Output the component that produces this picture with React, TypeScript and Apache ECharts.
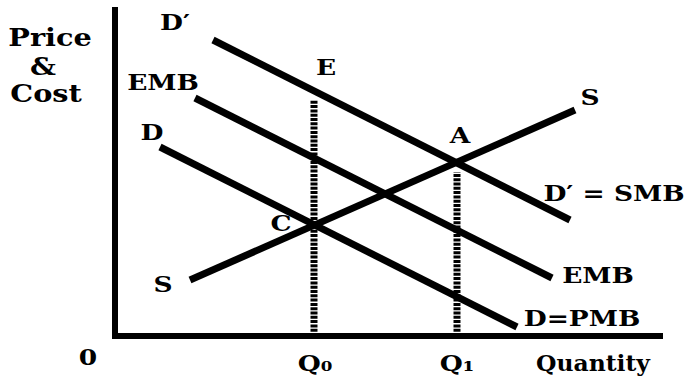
import React, { useEffect, useRef } from "react";
import * as echarts from "echarts";

// Axis extents (quantity, price) in chart units
const X_MAX = 545;
const Y_MAX = 326;

// Curves: [quantity, price] end points
const smbCurve = [[98, 296], [455, 116]]; // D' = SMB
const embCurve = [[80, 238], [437, 58]]; // EMB
const pmbCurve = [[45, 189], [402, 9]]; // D = PMB
const supplyCurve = [[75, 56], [460, 226]]; // S

// Quantities and dotted guide lines
const q0 = 199;
const q0Top = 236;
const q1 = 342;
const q1Top = 164;

// Text annotations: text, quantity, price, font size, horizontal stretch
const annotations: [string, number, number, number, number][] = [
  ["Price", -65, 299, 25, 1.15],
  ["&", -72, 270, 25, 1.15],
  ["Cost", -69, 243, 25, 1.15],
  ["D\u2032", 60, 314, 23, 1.15],
  ["E", 211, 269, 23, 1.15],
  ["EMB", 48, 254, 23, 1.15],
  ["D", 37, 204, 23, 1.15],
  ["A", 345, 201, 23, 1.15],
  ["C", 166, 113, 23, 1.15],
  ["S", 475, 239, 23, 1.15],
  ["D\u2032 = SMB", 499, 143, 23, 1.15],
  ["S", 48, 52, 23, 1.15],
  ["EMB", 483, 61, 23, 1.15],
  ["D=PMB", 467, 18, 23, 1.15],
  ["0", -27, -21, 23, 1.15],
  ["Q\u2080", 200, -27, 23, 1.15],
  ["Q\u2081", 342, -27, 23, 1.15],
  ["Quantity", 478, -27, 23, 1.02],
];

const FONT = '"DejaVu Serif", serif';

export default function App() {
  const ref = useRef<HTMLDivElement>(null);
  useEffect(() => {
    if (!ref.current) return;
    const chart = echarts.init(ref.current, null, { renderer: "svg" });
    const thick = { color: "#000", width: 7, cap: "butt" };
    const dotted = { color: "#000", width: 7, type: [3, 1.3], cap: "butt" };
    const lineSeries = (data: number[][], style: any, z: number) => ({
      type: "line",
      data,
      symbol: "none",
      silent: true,
      animation: false,
      lineStyle: style,
      z,
    });
    const axisCommon = {
      type: "value",
      axisLine: { show: true, onZero: false, lineStyle: { color: "#000", width: 6, cap: "square" } },
      axisTick: { show: false },
      axisLabel: { show: false },
      splitLine: { show: false },
    };
    chart.setOption({
      animation: false,
      backgroundColor: "#fff",
      grid: { left: 115, right: 27, top: 10, bottom: 46, containLabel: false, outerBoundsMode: "none" },
      xAxis: { ...axisCommon, min: 0, max: X_MAX },
      yAxis: { ...axisCommon, min: 0, max: Y_MAX },
      series: [
        lineSeries([[q0, 0], [q0, q0Top]], dotted, 2),
        lineSeries([[q1, 0], [q1, q1Top]], dotted, 2),
        lineSeries(smbCurve, thick, 3),
        lineSeries(embCurve, thick, 3),
        lineSeries(pmbCurve, thick, 3),
        lineSeries(supplyCurve, thick, 3),
      ],
    });
    const graphic = annotations.map(([text, x, y, size, sx]) => {
      const p = chart.convertToPixel({ gridIndex: 0 }, [x, y]) as number[];
      return {
        type: "text",
        x: p[0],
        y: p[1],
        scaleX: sx,
        silent: true,
        style: {
          text,
          font: `bold ${size}px ${FONT}`,
          fill: "#000",
          textAlign: "center",
          textVerticalAlign: "middle",
          align: "center",
          verticalAlign: "middle",
        },
      };
    });
    chart.setOption({ graphic });
    return () => chart.dispose();
  }, []);
  return (
    <div
      ref={ref}
      style={{ position: "absolute", left: 0, top: 0, width: 687, height: 382, background: "#fff" }}
    />
  );
}
